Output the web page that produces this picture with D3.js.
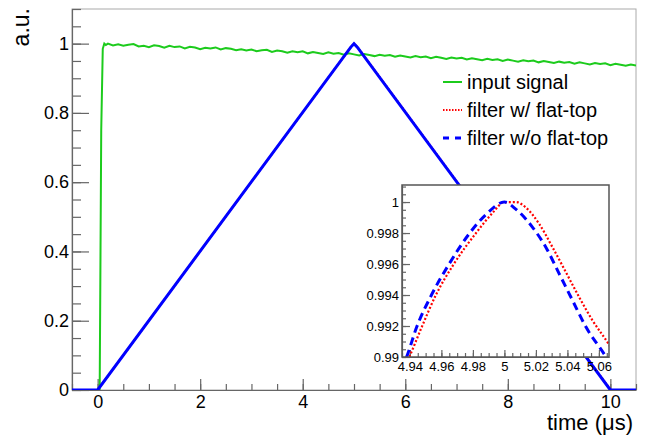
<!DOCTYPE html>
<html lang="en">
<head>
<meta charset="UTF-8" />
<title>Trapezoidal filter output</title>
<script src="https://d3js.org/d3.v7.min.js"></script>
<style>
  body { margin: 0; background: #fff; }
  svg { display: block; font-family: "Liberation Sans", Arial, sans-serif; }
  .axis .domain { stroke: #666; stroke-width: 1.2; }
  .axis line { stroke: #666; stroke-width: 1.2; }
  .axis text { fill: #000; }
</style>
</head>
<body>
<svg width="648" height="438"></svg>
<script>
// ---- data ----
const xTicks = [0, 2, 4, 6, 8, 10];
const xTickLabels = ["0", "2", "4", "6", "8", "10"];
const yTicks = [0, 0.2, 0.4, 0.6, 0.8, 1];
const yTickLabels = ["0", "0.2", "0.4", "0.6", "0.8", "1"];

const insetXTicks = [4.94, 4.96, 4.98, 5, 5.02, 5.04, 5.06];
const insetXLabels = ["4.94", "4.96", "4.98", "5", "5.02", "5.04", "5.06"];
const insetYTicks = [0.99, 0.992, 0.994, 0.996, 0.998, 1];
const insetYLabels = ["0.99", "0.992", "0.994", "0.996", "0.998", "1"];

// input signal (time, amplitude)
const signal = [
  [-0.5, 0], [0.04, 0], [0.07, 0.75], [0.1, 0.985], [0.13, 1.0], [0.16, 0.996],
  [0.2, 1.000], [0.3, 0.995], [0.4, 0.998], [0.5, 0.994], [0.6, 0.997], [0.7, 0.999],
  [0.8, 0.992], [0.9, 0.994], [1.0, 0.990], [1.1, 0.995], [1.2, 0.993], [1.3, 0.988],
  [1.4, 0.994], [1.5, 0.990], [1.6, 0.992], [1.7, 0.986], [1.8, 0.991], [1.9, 0.989],
  [2.0, 0.984], [2.1, 0.988], [2.2, 0.986], [2.3, 0.989], [2.4, 0.983], [2.5, 0.987],
  [2.6, 0.985], [2.7, 0.981], [2.8, 0.984], [2.9, 0.980], [3.0, 0.983], [3.1, 0.978],
  [3.2, 0.981], [3.3, 0.982], [3.4, 0.976], [3.5, 0.980], [3.6, 0.978], [3.7, 0.974],
  [3.8, 0.978], [3.9, 0.975], [4.0, 0.978], [4.1, 0.972], [4.2, 0.976], [4.3, 0.973],
  [4.4, 0.970], [4.5, 0.975], [4.6, 0.971], [4.7, 0.973], [4.8, 0.968], [4.9, 0.972],
  [5.0, 0.969], [5.1, 0.966], [5.2, 0.970], [5.3, 0.967], [5.4, 0.964], [5.5, 0.968],
  [5.6, 0.965], [5.7, 0.967], [5.8, 0.962], [5.9, 0.966], [6.0, 0.963], [6.1, 0.960],
  [6.2, 0.964], [6.3, 0.961], [6.4, 0.963], [6.5, 0.958], [6.6, 0.962], [6.7, 0.959],
  [6.8, 0.956], [6.9, 0.960], [7.0, 0.957], [7.1, 0.959], [7.2, 0.954], [7.3, 0.958],
  [7.4, 0.955], [7.5, 0.952], [7.6, 0.956], [7.7, 0.953], [7.8, 0.955], [7.9, 0.950],
  [8.0, 0.954], [8.1, 0.951], [8.2, 0.948], [8.3, 0.952], [8.4, 0.949], [8.5, 0.951],
  [8.6, 0.946], [8.7, 0.950], [8.8, 0.947], [8.9, 0.944], [9.0, 0.948], [9.1, 0.945],
  [9.2, 0.947], [9.3, 0.942], [9.4, 0.946], [9.5, 0.943], [9.6, 0.940], [9.7, 0.944],
  [9.8, 0.941], [9.9, 0.943], [10.0, 0.938], [10.1, 0.942], [10.2, 0.939], [10.3, 0.936],
  [10.4, 0.940], [10.5, 0.937]
];

// filter outputs, main view
const noFlatTop = [[-0.5, 0], [0, 0], [4.938, 0.99], [5.0, 1.0], [5.0645, 0.99], [10, 0], [10.5, 0]];
const flatTop = [[-0.5, 0], [0, 0], [4.9396, 0.99], [5.0, 1.0], [5.0074, 1.0], [5.066, 0.9908], [10.01, 0], [10.5, 0]];

// filter outputs around the peak (inset)
const peakNoFlat = [
  [4.930, 0.9885], [4.9379, 0.990], [4.9442, 0.9919], [4.9537, 0.9940], [4.9649, 0.9960],
  [4.9780, 0.9980], [4.9884, 0.9992], [5.0, 1.0], [5.0074, 0.99953], [5.0180, 0.99835],
  [5.0264, 0.99707], [5.0349, 0.99535], [5.0433, 0.99364], [5.0518, 0.99193], [5.0645, 0.990],
  [5.070, 0.9890]
];
const peakFlat = [
  [4.930, 0.9882], [4.9396, 0.990], [4.9474, 0.9919], [4.9565, 0.9940], [4.9679, 0.9960],
  [4.9820, 0.9980], [4.9926, 0.99931], [5.0, 1.0], [5.0074, 1.0], [5.0137, 0.99964],
  [5.0222, 0.99857], [5.0306, 0.99707], [5.0391, 0.99546], [5.0475, 0.99385], [5.0560, 0.99235],
  [5.0661, 0.99085], [5.070, 0.9902]
];

const legendItems = ["input signal", "filter w/ flat-top", "filter w/o flat-top"];

// ---- layout ----
const svg = d3.select("svg");
const frame = { left: 72, right: 636, top: 9, bottom: 390 };
const x = d3.scaleLinear().domain([-0.5, 10.5]).range([frame.left, frame.right]);
const y = d3.scaleLinear().domain([0, 1.1]).range([frame.bottom, frame.top]);

const green = "#1ccb1c", red = "#ff0000", blue = "#0000ff";

svg.append("defs").append("clipPath").attr("id", "mainClip")
  .append("rect").attr("x", frame.left).attr("y", frame.top)
  .attr("width", frame.right - frame.left).attr("height", frame.bottom - frame.top);

svg.append("rect")
  .attr("x", frame.left).attr("y", frame.top)
  .attr("width", frame.right - frame.left).attr("height", frame.bottom - frame.top)
  .attr("fill", "none").attr("stroke", "#aaa").attr("stroke-width", 1);

// minor ticks
svg.append("g").attr("class", "axis")
  .attr("transform", `translate(${frame.left},0)`)
  .call(d3.axisLeft(y).tickValues(d3.range(0, 1.1001, 0.05)).tickSize(-9).tickFormat(""))
  .call(g => g.select(".domain").remove());
svg.append("g").attr("class", "axis")
  .attr("transform", `translate(0,${frame.bottom})`)
  .call(d3.axisBottom(x).tickValues(d3.range(-0.5, 10.5001, 0.5)).tickSize(-6).tickFormat(""))
  .call(g => g.select(".domain").remove());

// major ticks
svg.append("g").attr("class", "axis")
  .attr("transform", `translate(${frame.left},0)`)
  .call(d3.axisLeft(y).tickValues(yTicks).tickSize(-17).tickPadding(3)
    .tickFormat((d, i) => yTickLabels[i]).tickSizeOuter(0))
  .call(g => g.selectAll("text").attr("font-size", 18));
svg.append("g").attr("class", "axis")
  .attr("transform", `translate(0,${frame.bottom})`)
  .call(d3.axisBottom(x).tickValues(xTicks).tickSize(-11).tickPadding(5)
    .tickFormat((d, i) => xTickLabels[i]).tickSizeOuter(0))
  .call(g => g.selectAll("text").attr("font-size", 18));

svg.append("text")
  .attr("transform", "translate(29,8) rotate(-90)")
  .attr("text-anchor", "end").attr("font-size", 23).text("a.u.");
svg.append("text")
  .attr("x", 633).attr("y", 430)
  .attr("text-anchor", "end").attr("font-size", 22).text("time (μs)");

const line = d3.line().x(d => x(d[0])).y(d => y(d[1]));
const plot = svg.append("g").attr("clip-path", "url(#mainClip)");

plot.append("path").datum(signal).attr("d", line)
  .attr("fill", "none").attr("stroke", green).attr("stroke-width", 2);
plot.append("path").datum(flatTop).attr("d", line)
  .attr("fill", "none").attr("stroke", red).attr("stroke-width", 2).attr("stroke-dasharray", "1.5,1.5");
plot.append("path").datum(noFlatTop).attr("d", line)
  .attr("fill", "none").attr("stroke", blue).attr("stroke-width", 3);

// ---- legend ----
const legend = svg.append("g");
legendItems.forEach((label, i) => {
  const ly = 82 + i * 28;
  const sample = legend.append("line")
    .attr("x1", 443).attr("x2", 462).attr("y1", ly).attr("y2", ly);
  if (i === 0) sample.attr("stroke", green).attr("stroke-width", 2);
  if (i === 1) sample.attr("stroke", red).attr("stroke-width", 2).attr("stroke-dasharray", "1.5,1.5");
  if (i === 2) sample.attr("stroke", blue).attr("stroke-width", 3).attr("stroke-dasharray", "6,6");
  legend.append("text").attr("x", 467).attr("y", ly + 7)
    .attr("font-size", 20).text(label);
});

// ---- inset ----
const inset = { left: 402, right: 609, top: 185, bottom: 357 };
const ix = d3.scaleLinear().domain([4.935, 5.0664]).range([inset.left, inset.right]);
const iy = d3.scaleLinear().domain([0.99, 1.0011]).range([inset.bottom, inset.top]);

svg.select("defs").append("clipPath").attr("id", "insetClip")
  .append("rect").attr("x", inset.left).attr("y", inset.top)
  .attr("width", inset.right - inset.left).attr("height", inset.bottom - inset.top);

svg.append("rect")
  .attr("x", inset.left).attr("y", inset.top)
  .attr("width", inset.right - inset.left).attr("height", inset.bottom - inset.top)
  .attr("fill", "#fff");

const insetG = svg.append("g");
insetG.append("g").attr("class", "axis")
  .attr("transform", `translate(${inset.left},0)`)
  .call(d3.axisLeft(iy).tickValues(d3.range(0.99, 1.0011, 0.0005)).tickSize(-4).tickFormat(""))
  .call(g => g.select(".domain").remove());
insetG.append("g").attr("class", "axis")
  .attr("transform", `translate(0,${inset.bottom})`)
  .call(d3.axisBottom(ix).tickValues(d3.range(4.935, 5.0665, 0.005)).tickSize(-4).tickFormat(""))
  .call(g => g.select(".domain").remove());
insetG.append("g").attr("class", "axis")
  .attr("transform", `translate(${inset.left},0)`)
  .call(d3.axisLeft(iy).tickValues(insetYTicks).tickSize(-8).tickPadding(3)
    .tickFormat((d, i) => insetYLabels[i]).tickSizeOuter(0))
  .call(g => g.selectAll("text").attr("font-size", 13));
insetG.append("g").attr("class", "axis")
  .attr("transform", `translate(0,${inset.bottom})`)
  .call(d3.axisBottom(ix).tickValues(insetXTicks).tickSize(-7).tickPadding(5)
    .tickFormat((d, i) => insetXLabels[i]).tickSizeOuter(0))
  .call(g => g.selectAll("text").attr("font-size", 13));

const iline = d3.line().x(d => ix(d[0])).y(d => iy(d[1])).curve(d3.curveMonotoneX);
const insetPlot = svg.append("g").attr("clip-path", "url(#insetClip)");
insetPlot.append("path").datum(peakFlat).attr("d", iline)
  .attr("fill", "none").attr("stroke", red).attr("stroke-width", 2.2).attr("stroke-dasharray", "2,2");
insetPlot.append("path").datum(peakNoFlat).attr("d", iline)
  .attr("fill", "none").attr("stroke", blue).attr("stroke-width", 3).attr("stroke-dasharray", "8,5");

svg.append("rect")
  .attr("x", inset.left).attr("y", inset.top)
  .attr("width", inset.right - inset.left).attr("height", inset.bottom - inset.top)
  .attr("fill", "none").attr("stroke", "#555").attr("stroke-width", 1.5);
</script>
</body>
</html>
